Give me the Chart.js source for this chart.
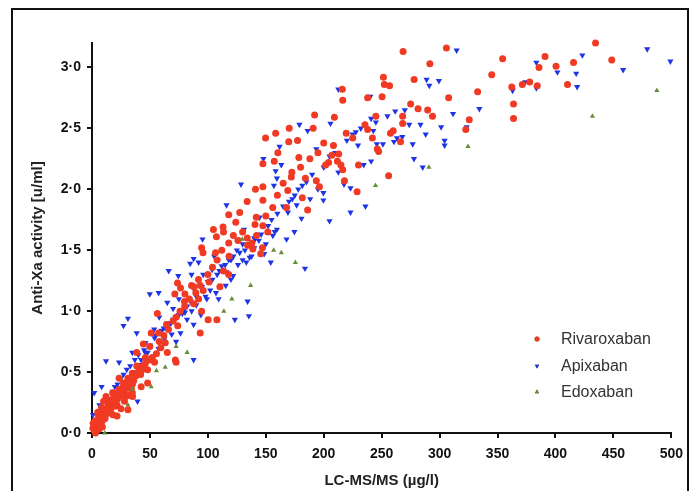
<!DOCTYPE html>
<html>
<head>
<meta charset="utf-8">
<script src="https://cdn.jsdelivr.net/npm/chart.js@4"></script>
<style>
  body { margin: 0; background: #fff; }
  #wrap { position: relative; width: 691px; height: 491px; overflow: hidden; }
  #frame { position: absolute; left: 11px; top: 8px; width: 674px; height: 520px; border: 2px solid #111; pointer-events: none; }
</style>
</head>
<body>
<div id="wrap">
  <canvas id="scatter" width="691" height="491"></canvas>
  <div id="frame"></div>
</div>
<script>
// values: [LC-MS/MS ug/l, anti-Xa u/ml]
var rivaroxaban = [
  [434.6,3.20],[448.6,3.06],[415.6,3.04],[400.5,3.01],[391,3.09],[385.8,3.0],[384.3,2.85],[377.8,2.88],[371.4,2.86],
  [362.3,2.84],[363.8,2.70],[363.8,2.58],[354.4,3.07],[345,2.94],[332.8,2.80],[325.6,2.57],[322.6,2.49],[410.4,2.86],
  [307.8,2.75],[305.9,3.16],[291.6,3.03],[289.7,2.65],[293.9,2.60],[278,2.90],[281.4,2.66],[268.5,3.13],[268.1,2.60],
  [268.1,2.54],[266.3,2.39],[257.6,2.46],[256.8,2.85],[251.5,2.92],[252.3,2.86],[250.4,2.76],[237.9,2.75],[235.6,2.53],
  [237.9,2.49],[246.2,2.33],[247.4,2.31],[256,2.11],[228.8,1.98],[216,2.82],[216.4,2.73],[219.4,2.46],[209.2,2.59],
  [208.4,2.36],[212.9,2.29],[214.8,2.20],[216.4,2.16],[211.8,2.23],[217.9,2.07],[204.2,2.22],[201.6,2.20],[196.3,2.02],
  [193.6,2.07],[192.1,2.61],[190.9,2.50],[184.2,2.09],[186.1,1.83],[181.5,1.93],[178.5,2.26],[177.4,2.40],[170.2,2.50],
  [169.8,2.39],[172.5,2.14],[169,1.99],[167.9,1.85],[158.5,2.46],[160.4,2.30],[157.3,2.23],[147.5,2.21],[149.8,2.42],
  [147.5,1.91],[147.5,2.02],[141.1,2.0],[133.9,1.90],[141.8,1.77],[140.7,1.71],[147.5,1.70],[151.7,1.65],[127.5,1.81],
  [124.1,1.73],[118,1.79],[113.1,1.69],[104.8,1.67],[107.4,1.61],[113.5,1.65],[136.9,1.54],[138.8,1.51],[134.3,1.54],
  [145.6,1.47],[147.1,1.52],[94.6,1.52],[95.8,1.48],[106.6,1.48],[118.3,1.45],[113.5,1.33],[118,1.30],[110.4,1.20],
  [101,1.24],[91.9,1.26],[93.4,1.21],[85.9,1.21],[89.6,1.15],[80.2,1.14],[73.8,1.23],[76.4,1.19],[71.5,1.14],
  [79.8,1.08],[87.7,1.06],[94.6,1.00],[93.4,0.82],[100.2,0.93],[107.8,0.93],[72.6,0.95],[56.4,0.98],[64.3,0.89],
  [57.5,0.82],[51.1,0.82],[44.3,0.73],[49.9,0.71],[59.4,0.70],[63.2,0.74],[65,0.66],[55.6,0.65],[46.1,0.62],
  [71.9,0.60],[72.6,0.58],[38.6,0.66],[38.6,0.55],[43.1,0.52],[34.8,0.49],[31,0.45],[23.4,0.45],[27.2,0.41],
  [34.8,0.40],[23.4,0.36],[17.8,0.33],[12.1,0.30],[19.7,0.29],[29.1,0.30],[34.8,0.33],[14,0.25],[21.6,0.23],
  [8.3,0.21],[15.9,0.18],[5.3,0.15],[11.3,0.12],[2.6,0.10],[6.4,0.07],[0.8,0.04],[3.8,0.03],[9,0.10],[21.6,0.14],
  [31,0.19],[42.4,0.38],[48,0.41],
  [2,0.02],[4,0.06],[5,0.09],[7,0.11],[8,0.14],[10,0.13],[11,0.18],[12,0.2],[13,0.16],[14,0.22],[15,0.24],[16,0.21],
  [17,0.27],[18,0.25],[19,0.3],[20,0.22],[21,0.31],[22,0.28],[23,0.33],[24,0.3],[25,0.36],[26,0.32],[27,0.38],
  [28,0.35],[29,0.4],[30,0.37],[31,0.42],[32,0.31],[33,0.44],[34,0.36],[36,0.43],[38,0.47],[40,0.5],[42,0.48],
  [44,0.55],[46,0.57],[48,0.52],[50,0.6],[52,0.62],[54,0.58],[3,0.0],[6,0.03],[9,0.05],[1,0.08],[5,0.17],[10,0.26],
  [18,0.15],[25,0.2],[28,0.26],[35,0.3],
  [58,0.75],[62,0.8],[66,0.85],[70,0.92],[74,0.88],[76,1.0],[80,1.04],[84,1.1],[88,1.2],[92,1.1],[96,1.17],[100,1.3],
  [104,1.36],[108,1.42],[112,1.5],[118,1.56],[122,1.62],[126,1.58],[130,1.65],[134,1.6],[138,1.56],[142,1.62],
  [150,1.78],[156,1.85],[160,1.95],[165,2.05],[172,2.1],[180,2.18],[188,2.25],[195,2.3],[200,2.38],[207,2.28],
  [225,2.42],[230,2.2],[242,2.42],[245,2.6],[260,2.48],[275,2.7]
];
var apixaban = [
  [479.2,3.15],[499.2,3.05],[458.4,2.98],[423.2,3.10],[417.9,2.95],[401.7,2.96],[418.7,2.84],[383.5,3.04],[383.5,2.83],
  [374,2.88],[363,2.81],[314.7,3.14],[334.3,2.66],[323.4,2.51],[311.6,2.62],[304.3,2.40],[304.3,2.36],[301.3,2.51],
  [299.4,2.89],[291.1,2.85],[288.8,2.90],[288,2.45],[285.4,2.18],[283.5,2.53],[277.9,2.25],[276.8,2.37],[273.8,2.53],
  [267.8,2.43],[263.2,2.42],[261.7,2.64],[260.6,2.39],[251.1,2.37],[245.8,2.37],[242.8,2.48],[240.9,2.23],[240.2,2.76],
  [240.9,2.58],[236,1.86],[234.5,2.20],[227.7,2.47],[229.6,2.36],[223.1,1.81],[223.1,2.01],[217.5,2.04],[212.6,2.82],
  [212.6,2.14],[205.8,2.54],[205,1.74],[199.7,1.91],[199.7,1.97],[193.6,2.33],[188.3,1.92],[186.1,2.48],[183.8,1.35],
  [181.5,2.03],[180.8,1.76],[179,2.53],[176.6,1.87],[174.7,1.65],[172.9,1.92],[169.1,1.81],[167.9,1.59],[163.4,2.20],
  [159.6,2.09],[158.5,2.15],[157,2.03],[161.9,2.35],[159.6,1.67],[157.7,1.65],[156.1,1.62],[154.3,1.40],[148.6,1.47],
  [147.9,2.25],[144.6,1.77],[140.7,1.59],[137.7,1.45],[135.4,0.96],[134.3,1.08],[133.2,1.40],[131.2,1.67],[128.6,2.04],
  [127.5,1.48],[123.3,0.93],[121.8,1.29],[119.9,1.26],[116.1,1.87],[115.4,1.21],[109.3,1.10],[107,1.15],[105.5,1.45],
  [103.7,1.34],[99.1,1.10],[95.4,1.59],[87.7,1.43],[85.9,1.30],[84.7,1.39],[82.1,1.04],[80.2,0.99],[87.7,0.89],
  [87.7,0.60],[76.4,0.82],[74.5,1.29],[66.2,1.33],[65,1.07],[57.5,1.15],[49.9,1.14],[62.4,0.77],[53.7,0.85],
  [46.1,0.74],[48,0.66],[34.8,0.66],[31,0.94],[27.2,0.88],[38.6,0.82],[12.1,0.59],[23.4,0.58],[19.7,0.38],[8.3,0.38],
  [1.9,0.33],[0.8,0.15],[6.4,0.23],[27.2,0.48],[39.3,0.26],[42.4,0.60],[57.5,0.69],[68.8,0.81],[72.6,0.75],
  [3,0.05],[6,0.12],[9,0.17],[12,0.2],[15,0.28],[18,0.34],[22,0.4],[25,0.45],[30,0.52],[33,0.55],[37,0.6],[40,0.64],
  [45,0.68],[50,0.72],[55,0.8],[60,0.84],[65,0.9],[70,0.93],[75,0.97],[80,1.02],[85,1.08],[90,1.12],[95,1.2],
  [100,1.24],[110,1.33],[115,1.38],[120,1.42],[125,1.5],[130,1.55],[140,1.6],
  [62,0.86],[68,0.9],[72,0.95],[78,0.98],[82,0.93],[86,1.0],[90,1.05],[94,0.97],[98,1.12],[102,1.17],[104,1.26],
  [108,1.3],[112,1.37],[116,1.32],[118,1.42],[122,1.45],[126,1.38],[130,1.42],[132,1.5],[136,1.44],[140,1.52],
  [144,1.58],[146,1.63],[150,1.55],[152,1.7],[155,1.75],[160,1.8],[165,1.86],[170,1.9],[175,1.95],[178,2.0],
  [185,2.06],[190,2.12],[195,2.0],[200,2.18],[205,2.27],[210,2.3],[220,2.4],[225,2.45],[232,2.5],[245,2.55],
  [255,2.6],[270,2.65],[92,1.4],[96,1.3],[88,1.18],[75,1.1],[70,1.02],[58,0.95],[54,0.78],[46,0.66],[42,0.56],
  [38,0.5],[28,0.42],[24,0.3],[20,0.27],[14,0.18],[8,0.1]
];
var edoxaban = [
  [487.5,2.81],[431.9,2.60],[324.5,2.35],[290.8,2.18],[244.7,2.03],[175.5,1.40],[163.4,1.48],[156.8,1.50],[129.7,1.59],
  [136.9,1.21],[120.7,1.10],[113.8,1.00],[82.1,0.66],[72.6,0.71],[63.2,0.54],[55.6,0.51],[51.1,0.38],[31,0.23],
  [11,0.0],[34.8,0.36]
];
var xTicks = [0, 50, 100, 150, 200, 250, 300, 350, 400, 450, 500];
var yTicks = [0, 0.5, 1, 1.5, 2, 2.5, 3];
var seriesNames = ["Rivaroxaban", "Apixaban", "Edoxaban"];

function pts(arr){ return arr.map(function(p){ return {x:p[0], y:p[1]}; }); }

var red = "rgb(240,58,36)", blue = "rgb(30,52,228)", green = "rgb(104,140,58)";

var legendInside = {
  id: "legendInside",
  afterDraw: function(chart){
    var ctx = chart.ctx;
    var rows = [339, 366, 392];
    ctx.save();
    chart.data.datasets.forEach(function(ds, i){
      Chart.helpers.drawPoint(ctx, {
        pointStyle: ds.pointStyle, radius: 2.5, rotation: ds.rotation || 0,
        borderWidth: 0
      }, 537, rows[i]);
      ctx.fillStyle = ds.backgroundColor;
      ctx.fill();
      ctx.fillStyle = "#333";
      ctx.font = "16px 'Liberation Sans', Arial, sans-serif";
      ctx.textBaseline = "middle";
      ctx.textAlign = "left";
      ctx.fillText(seriesNames[i], 561, rows[i] + 1);
    });
    ctx.restore();
  }
};

var tickFont = { family: "'Liberation Sans', Arial, sans-serif", size: 14, weight: "bold" };
var titleFont = { family: "'Liberation Sans', Arial, sans-serif", size: 15, weight: "bold" };

new Chart(document.getElementById("scatter"), {
  type: "scatter",
  data: {
    datasets: [
      { label: seriesNames[0], data: pts(rivaroxaban), pointStyle: "circle", pointRadius: 3.5,
        backgroundColor: red, borderWidth: 0, order: 2, clip: false },
      { label: seriesNames[1], data: pts(apixaban), pointStyle: "triangle", rotation: 180, pointRadius: 3.6,
        backgroundColor: blue, borderWidth: 0, order: 3, clip: false },
      { label: seriesNames[2], data: pts(edoxaban), pointStyle: "triangle", pointRadius: 3,
        backgroundColor: green, borderWidth: 0, order: 1, clip: false }
    ]
  },
  options: {
    responsive: false,
    animation: false,
    layout: { padding: { left: 0, top: 43, right: 16, bottom: 0 } },
    plugins: { legend: { display: false }, tooltip: { enabled: false } },
    scales: {
      x: {
        type: "linear", min: 0, max: 500,
        afterFit: function(s){ s.height = 58; },
        afterBuildTicks: function(s){ s.ticks = xTicks.map(function(v){ return {value: v}; }); },
        grid: { drawOnChartArea: false, drawTicks: true, tickLength: 5, color: "#111", lineWidth: 2 },
        border: { display: true, color: "#111", width: 2 },
        ticks: { color: "#111", font: tickFont, padding: 8, maxRotation: 0 },
        title: { display: true, text: "LC-MS/MS (µg/l)", color: "#222", font: titleFont, padding: { top: 0, bottom: 1 } }
      },
      y: {
        type: "linear", min: 0, max: 3.2,
        afterFit: function(s){ s.width = 92; },
        afterBuildTicks: function(s){ s.ticks = yTicks.map(function(v){ return {value: v}; }); },
        grid: { drawOnChartArea: false, drawTicks: true, tickLength: 5, color: "#111", lineWidth: 2 },
        border: { display: true, color: "#111", width: 2 },
        ticks: { color: "#111", font: tickFont, padding: 6,
          callback: function(v){ return Number(v).toFixed(1).replace(".", "·"); } },
        title: { display: true, text: "Anti-Xa activity [u/ml]", color: "#222", font: titleFont, padding: { top: 29, bottom: 0 } }
      }
    }
  },
  plugins: [legendInside]
});
</script>
</body>
</html>
